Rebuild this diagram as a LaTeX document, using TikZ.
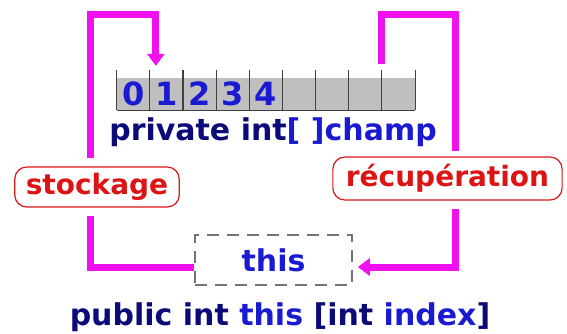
\documentclass[tikz,border=0pt]{standalone}
\usepackage{fontspec}
\setmainfont{DejaVu Sans}
\usepackage{xcolor}
\usetikzlibrary{positioning, arrows.meta}

\definecolor{navy}{HTML}{0A0A78}
\definecolor{codeblue}{HTML}{1A1AD2}
\definecolor{linkpink}{HTML}{F010F0}
\definecolor{lblred}{HTML}{DC1414}

\begin{document}
\begin{tikzpicture}[
  x=1pt, y=-1pt,
  cell/.style={fill=black!25, minimum width=33.1pt, minimum height=32pt, inner sep=0pt,
               text=codeblue, font=\fontsize{32}{32}\selectfont\bfseries},
  tick/.style={draw=black!75, line width=1.1pt},
  code/.style={font=\fontsize{30}{30}\selectfont\bfseries, text=navy, anchor=base, inner sep=0pt},
  lbl/.style={draw=lblred, line width=1.2pt, rounded corners=12pt, text=lblred,
              font=\fontsize{28}{28}\selectfont\bfseries, inner xsep=11pt, minimum height=40pt},
  idx/.style={draw=black!55, dash pattern=on 12pt off 8pt, line width=1.5pt,
              minimum width=157pt, minimum height=50pt,
              text=codeblue, font=\fontsize{30}{30}\selectfont\bfseries},
  link/.style={draw=linkpink, line width=7pt},
  arr/.style={link, -{Triangle[width=17pt, length=12pt]}}
]
\useasboundingbox (0,0) rectangle (567,333);

% the array
\foreach \i in {0,...,8}
  \node[cell] (c\i) at (133.5+33.1*\i, 94) {\ifnum\i<5 \i\fi};
\foreach \i in {0,...,8}
  \draw[tick] ([yshift=8pt]c\i.north west) -- (c\i.south west);
\draw[tick] ([yshift=8pt]c8.north east) -- (c8.south east);
\draw[tick] (c0.south west) -- (c8.south east);

\node[code] (decl) at (273,140) {private int{\color{codeblue}[ ]champ}};

% labels and indexer
\node[lbl] (stock) at (97,187) {stockage};
\node[lbl, inner xsep=13pt, minimum height=43pt] (recup) at (447.5,178.5) {récupération};
\node[idx] (this) at (273.5,260) {this};

\node[code] (sig) at (280,325)
  {public int {\color{codeblue}this} [int {\color{codeblue}index}]};

% connectors
\coordinate (lefttop) at (90,14);
\coordinate (righttop) at (455,14);

\draw[arr] ([xshift=-7pt,yshift=8pt]stock.north) -- (lefttop) -| ([xshift=6pt,yshift=12pt]c1.north west);
\draw[link] ([yshift=-7pt]this.west) -| ([xshift=-7pt,yshift=-8pt]stock.south);
\draw[link] ([yshift=14pt]c8.north west) |- (righttop) -- ([xshift=7.5pt,yshift=5pt]recup.north);
\draw[arr] ([xshift=7.5pt,yshift=-8pt]recup.south) |- ([xshift=5pt,yshift=-7pt]this.east);
\end{tikzpicture}
\end{document}
